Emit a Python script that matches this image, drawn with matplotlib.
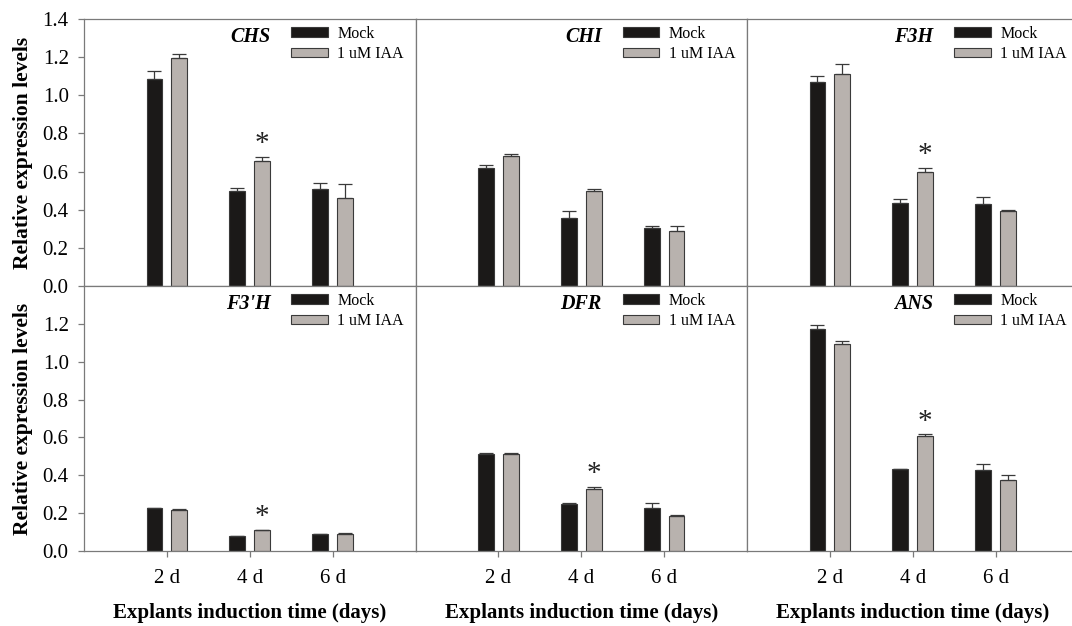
import numpy as np
import matplotlib
matplotlib.use('Agg')
import matplotlib.pyplot as plt
from matplotlib.patches import Patch

plt.rcParams['font.family'] = ['Liberation Serif', 'DejaVu Serif']

days = ['2 d', '4 d', '6 d']
genes = ['CHS', 'CHI', 'F3H', "F3'H", 'DFR', 'ANS']

# mean values, Mock then 1 uM IAA
mock = {
    'CHS': [1.084, 0.500, 0.511],
    'CHI': [0.621, 0.354, 0.304],
    'F3H': [1.072, 0.437, 0.430],
    "F3'H": [0.226, 0.078, 0.090],
    'DFR': [0.513, 0.249, 0.226],
    'ANS': [1.175, 0.432, 0.429],
}
iaa = {
    'CHS': [1.193, 0.653, 0.462],
    'CHI': [0.684, 0.496, 0.288],
    'F3H': [1.109, 0.598, 0.393],
    "F3'H": [0.217, 0.111, 0.088],
    'DFR': [0.515, 0.326, 0.185],
    'ANS': [1.092, 0.607, 0.376],
}
mock_err = {
    'CHS': [0.044, 0.012, 0.030],
    'CHI': [0.013, 0.037, 0.013],
    'F3H': [0.028, 0.019, 0.038],
    "F3'H": [0.003, 0.003, 0.002],
    'DFR': [0.005, 0.003, 0.028],
    'ANS': [0.018, 0.002, 0.030],
}
iaa_err = {
    'CHS': [0.024, 0.026, 0.075],
    'CHI': [0.009, 0.010, 0.029],
    'F3H': [0.053, 0.023, 0.003],
    "F3'H": [0.003, 0.002, 0.005],
    'DFR': [0.003, 0.014, 0.005],
    'ANS': [0.016, 0.010, 0.023],
}
# which IAA bars carry a significance star
stars = {
    'CHS': [False, True, False],
    'CHI': [False, False, False],
    'F3H': [False, True, False],
    "F3'H": [False, True, False],
    'DFR': [False, True, False],
    'ANS': [False, True, False],
}

mock_color = '#1b1918'
iaa_color = '#b8b2ae'
edge_color = '#3a3a3a'
spine_color = '#7a7a7a'

W, H = 1072, 626
fig = plt.figure(figsize=(W / 100, H / 100), dpi=100)

left_px = 84
panel_w = 331.5
tops_px = [19, 286]
panel_h = [267, 265]

x = np.arange(len(days))
bw = 0.19
off = 0.15

for i, g in enumerate(genes):
    row, col = divmod(i, 3)
    l = (left_px + col * panel_w) / W
    b = 1 - (tops_px[row] + panel_h[row]) / H
    ax = fig.add_axes([l, b, panel_w / W, panel_h[row] / H])

    ax.bar(x - off, mock[g], bw, color=mock_color, edgecolor=edge_color, linewidth=0.8,
           yerr=[np.zeros(3), mock_err[g]], capsize=5,
           error_kw=dict(ecolor=edge_color, elinewidth=0.9, capthick=0.9), zorder=2)
    ax.bar(x + off, iaa[g], bw, color=iaa_color, edgecolor=edge_color, linewidth=0.8,
           yerr=[np.zeros(3), iaa_err[g]], capsize=5,
           error_kw=dict(ecolor=edge_color, elinewidth=0.9, capthick=0.9), zorder=2)

    for j in range(3):
        if stars[g][j]:
            ax.text(x[j] + off, iaa[g][j] + iaa_err[g][j] + 0.065, '*', ha='center', va='center',
                    fontsize=21, color='#222222')

    ax.set_xlim(-1, 3)
    ax.set_ylim(0, 1.4)
    ax.set_xticks(x)
    for s in ax.spines.values():
        s.set_color(spine_color)
        s.set_linewidth(0.9)
    ax.tick_params(axis='x', direction='out', length=4, width=0.9, color=spine_color,
                   labelsize=15, pad=9)
    if row == 0:
        ax.set_xticklabels([])
    else:
        ax.set_xticklabels(days)
        ax.set_xlabel('Explants induction time (days)', fontsize=15, fontweight='bold')
        ax.xaxis.set_label_coords(0.5, -0.195)
        ax.xaxis.label.set_va('top')

    if col == 0:
        ticks = np.arange(0, 1.41, 0.2) if row == 0 else np.arange(0, 1.21, 0.2)
        ax.set_yticks(ticks)
        ax.set_yticklabels(['%.1f' % t for t in ticks])
        ax.tick_params(axis='y', direction='out', length=4, width=0.9, color=spine_color,
                       labelsize=15, pad=7)
        ax.set_ylabel('Relative expression levels', fontsize=15.5, fontweight='bold')
        ax.yaxis.set_label_coords(-0.154, 0.5)
    else:
        ax.set_yticks([])

    ax.text(0.562, 0.933, g, transform=ax.transAxes, ha='right', va='center',
            fontsize=14.5, fontweight='bold', fontstyle='italic')
    handles = [Patch(facecolor=mock_color, edgecolor=edge_color, linewidth=0.8),
               Patch(facecolor=iaa_color, edgecolor=edge_color, linewidth=0.8)]
    ax.legend(handles, ['Mock', '1 uM IAA'], loc='upper right', bbox_to_anchor=(0.965, 0.975),
              frameon=False, fontsize=11.5, handlelength=2.3, handleheight=0.5,
              handletextpad=0.6, labelspacing=0.3, borderpad=0, borderaxespad=0)

fig.savefig('out.png', dpi=100)
